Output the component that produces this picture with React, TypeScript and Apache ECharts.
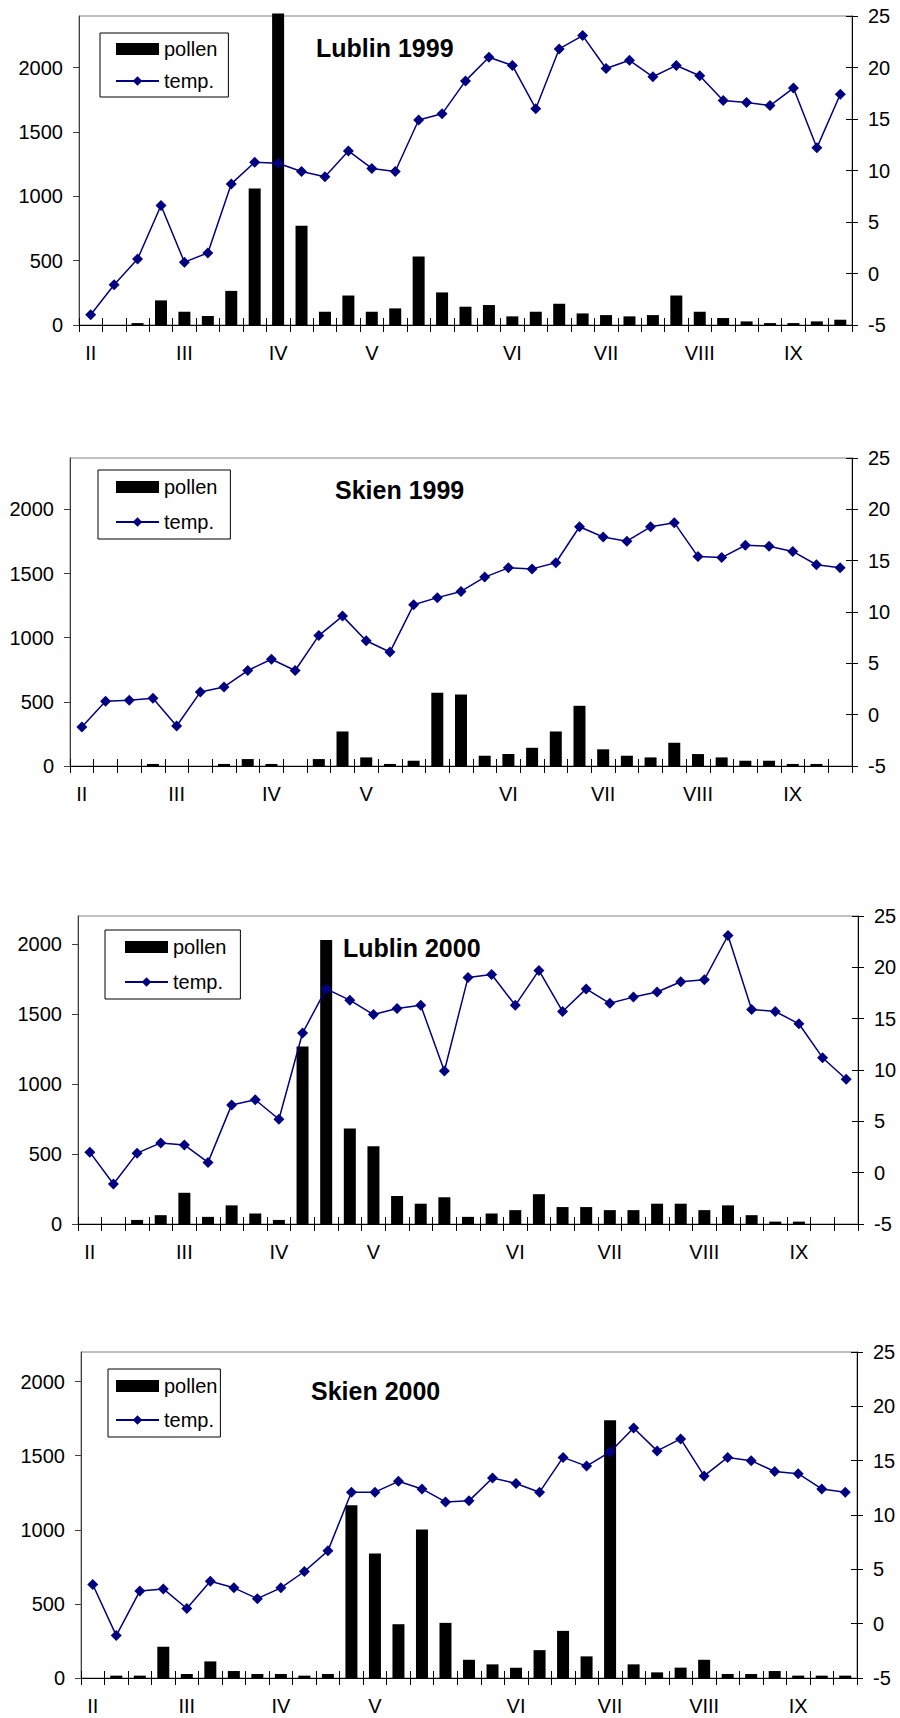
import React, { useEffect, useRef } from "react";
import * as echarts from "echarts";

const FONT = "'Liberation Sans', Arial, Helvetica, sans-serif";

// 33 weekly categories (Feb – Sep)
const weeks = [
  "1", "2", "3", "4", "5", "6", "7", "8", "9", "10", "11",
  "12", "13", "14", "15", "16", "17", "18", "19", "20", "21", "22",
  "23", "24", "25", "26", "27", "28", "29", "30", "31", "32", "33",
];
// month labels and the category index where each is shown
const monthIndex = [0, 4, 8, 12, 18, 22, 26, 30];
const monthNames = ["II", "III", "IV", "V", "VI", "VII", "VIII", "IX"];

const pollenTicks = [0, 500, 1000, 1500, 2000];

const lublin1999Pollen = [0, 0, 15, 191, 103, 70, 265, 1060, 2420, 771, 103, 229, 103, 129, 532, 253, 142, 155, 67, 103, 165, 90, 77, 67, 77, 229, 103, 54, 28, 15, 15, 28, 41];
const lublin1999Temp = [-4.0, -1.1, 1.4, 6.6, 1.1, 2.0, 8.7, 10.8, 10.7, 9.9, 9.4, 11.9, 10.2, 9.9, 14.9, 15.5, 18.7, 21.0, 20.2, 16.0, 21.8, 23.1, 19.9, 20.7, 19.1, 20.2, 19.2, 16.8, 16.6, 16.3, 18.0, 12.2, 17.4];

const skien1999Pollen = [0, 0, 0, 16, 0, 0, 16, 54, 16, 0, 54, 269, 67, 16, 41, 570, 557, 80, 93, 142, 269, 469, 130, 80, 67, 181, 93, 67, 41, 41, 16, 16, 0];
const skien1999Temp = [-1.2, 1.3, 1.4, 1.6, -1.1, 2.2, 2.7, 4.3, 5.4, 4.3, 7.7, 9.6, 7.2, 6.1, 10.7, 11.4, 12.0, 13.4, 14.3, 14.2, 14.8, 18.3, 17.3, 16.9, 18.3, 18.7, 15.4, 15.3, 16.5, 16.4, 15.9, 14.6, 14.3];

const lublin2000Pollen = [0, 0, 29, 63, 223, 51, 133, 75, 29, 1268, 2028, 682, 556, 200, 145, 191, 51, 75, 99, 213, 121, 121, 99, 99, 145, 145, 99, 133, 63, 17, 17, 0, 0];
const lublin2000Temp = [2.0, -1.1, 1.9, 2.9, 2.7, 1.0, 6.6, 7.1, 5.2, 13.6, 17.9, 16.8, 15.4, 16.0, 16.3, 9.9, 19.0, 19.3, 16.3, 19.7, 15.7, 17.9, 16.5, 17.1, 17.6, 18.6, 18.8, 23.1, 15.9, 15.7, 14.5, 11.2, 9.1];

const skien2000Pollen = [0, 16, 16, 211, 27, 112, 47, 27, 27, 16, 27, 1166, 841, 363, 1002, 372, 123, 92, 70, 188, 318, 146, 1740, 92, 38, 70, 123, 27, 27, 47, 16, 16, 16];
const skien2000Temp = [3.6, -1.1, 3.0, 3.2, 1.4, 3.9, 3.3, 2.3, 3.3, 4.8, 6.7, 12.1, 12.1, 13.1, 12.4, 11.2, 11.3, 13.4, 12.9, 12.1, 15.3, 14.5, 15.8, 18.0, 15.9, 17.0, 13.6, 15.3, 15.0, 14.0, 13.8, 12.4, 12.1];

const panels = [
  {
    title: "Lublin 1999", pollen: lublin1999Pollen, temp: lublin1999Temp, pollenMax: 2400,
    grid: { left: 79, top: 16, width: 773, height: 309 },
    titlePos: { left: 316, top: 35 },
    legend: { left: 100, top: 33, padding: [6, 11, 6, 15], itemGap: 12 },
  },
  {
    title: "Skien 1999", pollen: skien1999Pollen, temp: skien1999Temp, pollenMax: 2400,
    grid: { left: 70, top: 458, width: 782, height: 308 },
    titlePos: { left: 335, top: 477 },
    legend: { left: 98, top: 470, padding: [7, 13, 7, 17], itemGap: 15 },
  },
  {
    title: "Lublin 2000", pollen: lublin2000Pollen, temp: lublin2000Temp, pollenMax: 2200,
    grid: { left: 78, top: 916, width: 780, height: 308 },
    titlePos: { left: 343, top: 935 },
    legend: { left: 105, top: 930, padding: [7, 14, 7, 19], itemGap: 15 },
  },
  {
    title: "Skien 2000", pollen: skien2000Pollen, temp: skien2000Temp, pollenMax: 2200,
    grid: { left: 81, top: 1352, width: 776, height: 326 },
    titlePos: { left: 311, top: 1378 },
    legend: { left: 108, top: 1369, padding: [7, 3, 7, 7], itemGap: 14 },
  },
];

function monthLabel(idx: number): string {
  const k = monthIndex.indexOf(idx);
  return k >= 0 ? monthNames[k] : "";
}

function buildOption(): any {
  const labelStyle = { fontSize: 20, color: "#000", fontFamily: FONT };
  return {
    animation: false,
    backgroundColor: "#fff",
    textStyle: { fontFamily: FONT },
    title: panels.map((p) => ({
      text: p.title,
      left: p.titlePos.left,
      top: p.titlePos.top,
      padding: 0,
      textStyle: { fontSize: 25, fontWeight: "bold", color: "#000", fontFamily: FONT, lineHeight: 25 },
    })),
    legend: panels.map((p) => ({
      orient: "vertical",
      left: p.legend.left,
      top: p.legend.top,
      padding: p.legend.padding,
      itemGap: p.legend.itemGap,
      itemWidth: 43,
      itemHeight: 12,
      selectedMode: false,
      borderColor: "#000",
      borderWidth: 1,
      backgroundColor: "#fff",
      textStyle: { ...labelStyle },
      data: [{ name: "pollen", icon: "rect" }, { name: "temp." }],
    })),
    grid: panels.map((p) => ({
      ...p.grid,
      show: true,
      borderColor: "#808080",
      borderWidth: 1,
      backgroundColor: "transparent",
      containLabel: false,
    })),
    xAxis: panels.flatMap((p, i) => [
      {
        type: "category",
        gridIndex: i,
        data: weeks,
        position: "bottom",
        boundaryGap: true,
        axisLine: { show: true, onZero: false, lineStyle: { color: "#000", width: 1 } },
        axisTick: { show: true, interval: 0, length: 7, lineStyle: { color: "#000" } },
        axisLabel: {
          interval: 0,
          margin: 18,
          ...labelStyle,
          formatter: (_v: string, idx: number) => monthLabel(idx),
        },
        splitLine: { show: false },
      },
      {
        type: "category",
        gridIndex: i,
        data: weeks,
        position: "bottom",
        boundaryGap: true,
        axisLine: { show: false, onZero: false },
        axisTick: { show: true, inside: true, interval: 0, length: 7, lineStyle: { color: "#000" } },
        axisLabel: { show: false },
        splitLine: { show: false },
      },
    ]),
    yAxis: panels.flatMap((p, i) => [
      {
        type: "value",
        gridIndex: i,
        position: "left",
        min: 0,
        max: p.pollenMax,
        interval: 500,
        axisLine: { show: true, onZero: false, lineStyle: { color: "#404040" } },
        axisTick: { show: true, length: 6, lineStyle: { color: "#404040" }, customValues: pollenTicks },
        axisLabel: {
          margin: 16,
          ...labelStyle,
          customValues: pollenTicks,
          formatter: (v: number) => (v > 2000 ? "" : String(v)),
        },
        splitLine: { show: false },
      },
      {
        type: "value",
        gridIndex: i,
        position: "right",
        min: -5,
        max: 25,
        interval: 5,
        axisLine: { show: true, onZero: false, lineStyle: { color: "#000" } },
        axisTick: { show: true, length: 6, lineStyle: { color: "#000" } },
        axisLabel: { margin: 16, ...labelStyle },
        splitLine: { show: false },
      },
      {
        type: "value",
        gridIndex: i,
        position: "right",
        min: -5,
        max: 25,
        interval: 5,
        axisLine: { show: false, onZero: false },
        axisTick: { show: true, inside: true, length: 6, lineStyle: { color: "#000" } },
        axisLabel: { show: false },
        splitLine: { show: false },
      },
    ]),
    series: panels.flatMap((p, i) => [
      {
        name: "pollen",
        type: "bar",
        xAxisIndex: 2 * i,
        yAxisIndex: 3 * i,
        data: p.pollen,
        barWidth: 12,
        clip: false,
        itemStyle: { color: "#000" },
        z: 2,
      },
      {
        name: "temp.",
        type: "line",
        xAxisIndex: 2 * i,
        yAxisIndex: 3 * i + 1,
        data: p.temp,
        symbol: "diamond",
        symbolSize: 11,
        lineStyle: { color: "#000080", width: 1.5 },
        itemStyle: { color: "#000080" },
        z: 3,
      },
    ]),
  };
}

export default function App() {
  const ref = useRef<HTMLDivElement>(null);
  useEffect(() => {
    if (!ref.current) return;
    const chart = echarts.init(ref.current, null, { renderer: "svg" });
    chart.setOption(buildOption());
    return () => chart.dispose();
  }, []);
  return (
    <div
      ref={ref}
      style={{ position: "absolute", left: 0, top: 0, width: 900, height: 1718, background: "#fff" }}
    />
  );
}
